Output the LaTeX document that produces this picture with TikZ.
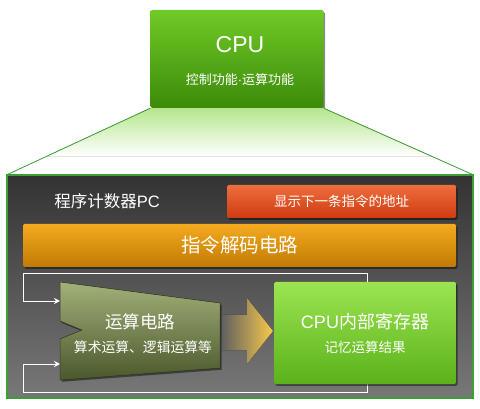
\documentclass[tikz,border=0pt]{standalone}
\usepackage{fontspec}
\setmainfont{Liberation Sans}
\newfontfamily\cjk{Noto Sans CJK SC}
\usetikzlibrary{shadows,positioning,calc,arrows.meta}

\definecolor{cputop}{HTML}{6FCB26}
\definecolor{cpubot}{HTML}{3C8A0A}
\definecolor{conegreen}{HTML}{B5E68E}
\definecolor{edgegreen}{HTML}{3E9E34}
\definecolor{redtop}{HTML}{EE6D3E}
\definecolor{redbot}{HTML}{CF3C10}
\definecolor{orgtop}{HTML}{F4AA1E}
\definecolor{orgbot}{HTML}{C27A04}
\definecolor{alutop}{HTML}{A2B07A}
\definecolor{alubot}{HTML}{4B582B}
\definecolor{regtop}{HTML}{9BE452}
\definecolor{regbot}{HTML}{5AB21A}
\definecolor{arrowyel}{HTML}{F7C84A}

\tikzset{
  box/.style={inner sep=0pt, text=white, rounded corners=1.5pt, drop shadow={shadow xshift=1.5pt, shadow yshift=-1.8pt, fill=black, opacity=0.45}},
  txt/.style={text=white, inner sep=0pt},
  loopline/.style={draw=white, line width=0.8pt},
}

\begin{document}
\begin{tikzpicture}[x=1pt, y=-1pt, >={Stealth[length=6pt,width=6pt]}]
    \useasboundingbox (0,0) rectangle (480,409);

    % top CPU block
    \node[box, minimum width=173pt, minimum height=98pt, top color=cputop, bottom color=cpubot] (cpu) at (237,59) {};
    \node[txt, font=\fontsize{23}{23}\selectfont] (cpuname) at (240,45) {CPU};
    \node[txt, font=\fontsize{13}{13}\selectfont] (cpuduty) at (240,80) {{\cjk 控制功能}·{\cjk 运算功能}};

    % outer panel
    \node[minimum width=466pt, minimum height=223pt, inner sep=0pt, top color=black!80, bottom color=black!53] (panel) at (240,286.5) {};

    % cone between them
    \fill[top color=conegreen, bottom color=white]
        (cpu.south west) -- (cpu.south east)
        -- ($(cpu.south east)!0.72!(panel.north east)$)
        -- ($(cpu.south west)!0.72!(panel.north west)$) -- cycle;
    \draw[edgegreen, line width=0.8pt] (cpu.south west) -- (panel.north west);
    \draw[edgegreen, line width=0.8pt] (cpu.south east) -- (panel.north east);
    \draw[edgegreen, line width=1.5pt] (panel.north west) rectangle (panel.south east);

    % program counter
    \node[txt, font=\fontsize{16.5}{16.5}\selectfont] (pc) at (107,201) {{\cjk 程序计数器}PC};
    \node[box, minimum width=229pt, minimum height=33pt, top color=redtop, bottom color=redbot,
          font=\cjk\fontsize{13.5}{13.5}\selectfont] (addr) at (341.5,201.5) {显示下一条指令的地址};

    % decoder
    \node[box, minimum width=433pt, minimum height=43pt, top color=orgtop, bottom color=orgbot,
          font=\cjk\fontsize{19.5}{19.5}\selectfont] (decoder) at (239.5,245.5) {指令解码电路};

    % feedback loop
    \coordinate (aluup) at (60,301);
    \coordinate (aludown) at (60,364);
    \draw[loopline, <->] (aluup) -- (23,301) |- (367,273) |- (23,392) |- (aludown);

    % ALU
    \coordinate (alunw) at (60,282);
    \coordinate (alune) at (220,303);
    \coordinate (aluse) at (220,368);
    \coordinate (alusw) at (60,380);
    \filldraw[top color=alutop, bottom color=alubot, draw=alubot!70!black, line width=0.5pt,
              drop shadow={shadow xshift=1.5pt, shadow yshift=-1.8pt, fill=black, opacity=0.45}]
        (alunw) -- (alune) -- (aluse) -- (alusw) -- (60,339) -- (82,330) -- (60,321) -- cycle;
    \node[txt, font=\cjk\fontsize{17.5}{17.5}\selectfont] (aluname) at (140,322) {运算电路};
    \node[txt, font=\cjk\fontsize{13.8}{13.8}\selectfont] (aluduty) at (143,347) {算术运算、逻辑运算等};

    % result arrow
    \fill[left color=black!62, right color=arrowyel]
        (222,315) -- (247,315) -- (247,298) -- (273,331) -- (247,364) -- (247,350) -- (222,350) -- cycle;

    % registers
    \node[box, minimum width=182pt, minimum height=102pt, top color=regtop, bottom color=regbot] (reg) at (365,333) {};
    \node[txt, font=\fontsize{18}{18}\selectfont] (regname) at (365,322) {CPU{\cjk 内部寄存器}};
    \node[txt, font=\cjk\fontsize{13.5}{13.5}\selectfont] (regduty) at (365,347) {记忆运算结果};
\end{tikzpicture}
\end{document}
